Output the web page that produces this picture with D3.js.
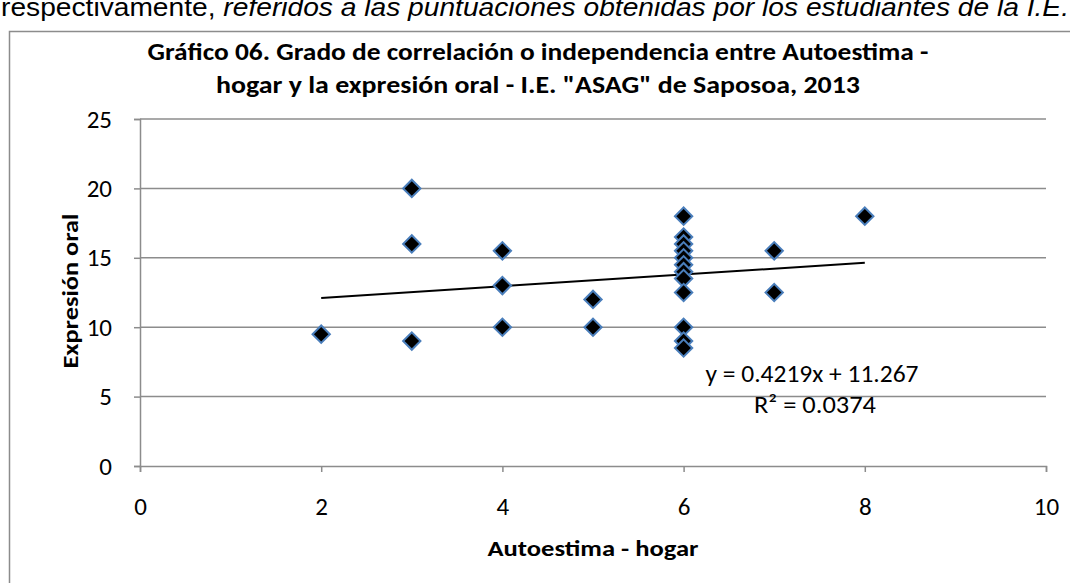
<html>
<script src="https://d3js.org/d3.v7.min.js"></script>
<style>
  body { margin: 0; background: #fff; }
  text { font-family: Carlito, Calibri, Lato, "Open Sans", sans-serif; }
</style>
<body>
<svg width="1070" height="583"></svg>
<script>
// Autoestima - hogar (x) vs Expresión oral (y)
var autoestima = [2, 3, 3, 3, 4, 4, 4, 5, 5, 6, 6, 6, 6, 6, 6, 6, 6, 6, 6, 6, 6, 7, 7, 8];
var expresion = [9.5, 20, 16, 9, 15.5, 13, 10, 12, 10, 18, 16.5, 16, 15.5, 15, 14.5, 14, 13.5, 12.5, 10, 9, 8.5, 15.5, 12.5, 18];
var xTicks = [0, 2, 4, 6, 8, 10];
var yTicks = [0, 5, 10, 15, 20, 25];
var slope = 0.4219, intercept = 11.267, r2 = "0.0374";
var titleLines = ["Gráfico 06. Grado de correlación o independencia entre Autoestima -",
                  "hogar y la expresión oral -  I.E. \"ASAG\" de Saposoa, 2013"];

var svg = d3.select("svg");

// cropped paragraph line above the chart
var para = svg.append("text")
  .attr("x", 1)
  .attr("y", 16)
  .attr("textLength", 1068)
  .attr("lengthAdjust", "spacingAndGlyphs")
  .style("font-family", "'Liberation Sans', Arial, sans-serif")
  .style("font-size", "26px")
  .style("fill", "#000");
para.append("tspan").text("respectivamente, ");
para.append("tspan").style("font-style", "italic")
  .text("referidos a las puntuaciones obtenidas por los estudiantes de la I.E.");

// chart area border
svg.append("rect")
  .attr("x", 9.5).attr("y", 31.5)
  .attr("width", 1100).attr("height", 620)
  .attr("fill", "none")
  .attr("stroke", "#8c8c8c")
  .attr("stroke-width", 1.5);

var x = d3.scaleLinear().domain([0, 10]).range([140, 1046]);
var y = d3.scaleLinear().domain([0, 25]).range([466, 119]);

// gridlines
svg.append("g")
  .selectAll("line")
  .data(yTicks.slice(1))
  .enter()
  .append("line")
  .attr("x1", x(0)).attr("x2", x(10))
  .attr("y1", function(d) { return y(d); })
  .attr("y2", function(d) { return y(d); })
  .attr("stroke", "#8c8c8c")
  .attr("stroke-width", 1.5);

// axes
var yAxis = svg.append("g")
  .attr("transform", "translate(" + x(0) + ",0)")
  .call(d3.axisLeft(y).tickValues(yTicks).tickSize(6).tickPadding(22));
var xAxis = svg.append("g")
  .attr("transform", "translate(0," + y(0) + ")")
  .call(d3.axisBottom(x).tickValues(xTicks).tickSize(6).tickPadding(25));

[xAxis, yAxis].forEach(function(a) {
  a.selectAll("path, line").attr("stroke", "#8c8c8c").attr("stroke-width", 1.5);
  a.selectAll("text")
    .style("font-family", "Carlito, Calibri, Lato, 'Open Sans', sans-serif")
    .style("font-size", "25px")
    .attr("fill", "#000");
});

// trend line from min x to max x
var xmin = d3.min(autoestima), xmax = d3.max(autoestima);
svg.append("line")
  .attr("x1", x(xmin)).attr("y1", y(slope * xmin + intercept))
  .attr("x2", x(xmax)).attr("y2", y(slope * xmax + intercept))
  .attr("stroke", "#000")
  .attr("stroke-width", 2);

// points (diamonds)
var diamond = d3.symbol().type(d3.symbolSquare).size(150);
svg.append("g")
  .selectAll("path")
  .data(autoestima)
  .enter()
  .append("path")
  .attr("d", diamond)
  .attr("transform", function(d, i) {
    return "translate(" + x(d) + "," + y(expresion[i]) + ") rotate(45)";
  })
  .attr("fill", "#000")
  .attr("stroke", "#4a7ebb")
  .attr("stroke-width", 2);

// equation label
svg.append("text")
  .attr("x", 812).attr("y", 382)
  .attr("textLength", 213)
  .attr("lengthAdjust", "spacingAndGlyphs")
  .style("text-anchor", "middle")
  .style("font-size", "25px")
  .text("y = " + slope + "x + " + intercept);
svg.append("text")
  .attr("x", 815).attr("y", 413)
  .attr("textLength", 122)
  .attr("lengthAdjust", "spacingAndGlyphs")
  .style("text-anchor", "middle")
  .style("font-size", "25px")
  .text("R² = " + r2);

// title
svg.append("g")
  .selectAll("text")
  .data(titleLines)
  .enter()
  .append("text")
  .attr("x", 538)
  .attr("y", function(d, i) { return 60 + i * 33; })
  .attr("textLength", function(d, i) { return i == 0 ? 781 : 644; })
  .attr("lengthAdjust", "spacingAndGlyphs")
  .style("text-anchor", "middle")
  .style("font-weight", "bold")
  .style("font-size", "25px")
  .text(function(d) { return d; });

// axis titles
svg.append("text")
  .attr("x", 593).attr("y", 556)
  .attr("textLength", 211)
  .attr("lengthAdjust", "spacingAndGlyphs")
  .style("text-anchor", "middle")
  .style("font-weight", "bold")
  .style("font-size", "23px")
  .text("Autoestima - hogar");

svg.append("text")
  .attr("transform", "translate(78,291) rotate(-90)")
  .attr("textLength", 155)
  .attr("lengthAdjust", "spacingAndGlyphs")
  .style("text-anchor", "middle")
  .style("font-weight", "bold")
  .style("font-size", "23px")
  .text("Expresión oral");
</script>
</body>
</html>
